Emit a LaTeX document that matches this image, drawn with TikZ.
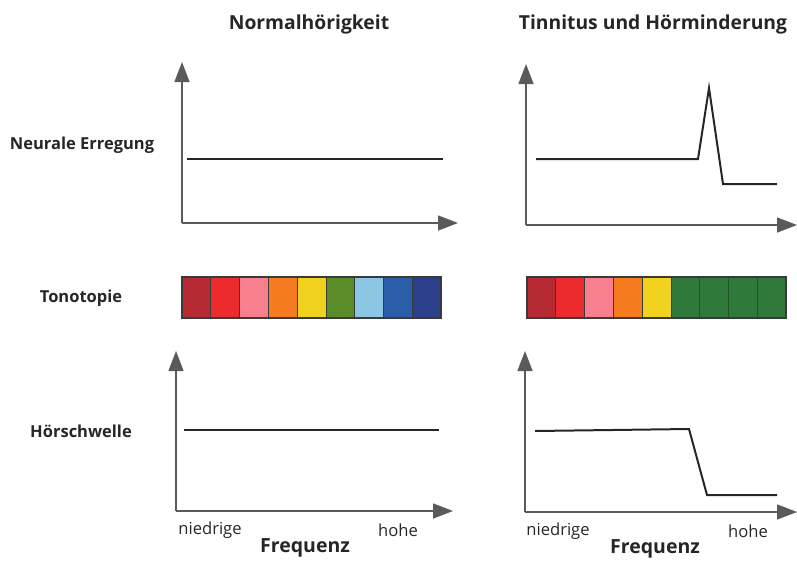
\documentclass[tikz,border=0pt]{standalone}
\usepackage{fontspec}
\setmainfont{Open Sans}
\usetikzlibrary{arrows.meta}
\definecolor{axisgray}{HTML}{5A5A5A}
\definecolor{linegray}{HTML}{262626}
\definecolor{cellborder}{HTML}{3A3A3A}
\definecolor{cDarkRed}{HTML}{B52A33}
\definecolor{cRed}{HTML}{EC2B2E}
\definecolor{cPink}{HTML}{F77F8E}
\definecolor{cOrange}{HTML}{F47B20}
\definecolor{cYellow}{HTML}{F1D21E}
\definecolor{cGreen}{HTML}{5B8C2A}
\definecolor{cLightBlue}{HTML}{8DC6E5}
\definecolor{cBlue}{HTML}{2B5DA8}
\definecolor{cDarkBlue}{HTML}{2C3F8A}
\definecolor{cDeepGreen}{HTML}{2F7A3A}
\tikzset{
  axis/.style={draw=axisgray, line width=1.4pt, -{Triangle[length=20pt,width=15pt]}, color=axisgray},
  curve/.style={draw=linegray, line width=2pt, line join=miter},
  title/.style={font=\bfseries\fontsize{19.3}{22}\selectfont, text=black!85, inner sep=0pt},
  rowlabel/.style={font=\bfseries\fontsize{16.5}{19}\selectfont, text=black!85, inner sep=0pt},
  freqlabel/.style={font=\fontsize{16.6}{19}\selectfont, text=black!85, inner sep=0pt},
  freqtitle/.style={font=\bfseries\fontsize{19.5}{22}\selectfont, text=black!85, inner sep=0pt},
  cell/.style={draw=cellborder, line width=0.8pt}
}
\begin{document}
\begin{tikzpicture}[x=1pt,y=-1pt]
\useasboundingbox (0,0) rectangle (797,560);
% titles
\node[title] (t1) at (309,24) {Normalhörigkeit};
\node[title] (t2) at (653,24) {Tinnitus und Hörminderung};
% row labels
\node[rowlabel] (r1) at (82,145) {Neurale Erregung};
\node[rowlabel] (r2) at (81,298) {Tonotopie};
\node[rowlabel] (r3) at (81,431) {Hörschwelle};

% top-left chart
\coordinate (o1) at (182,223);
\coordinate (y1) at (182,62);
\coordinate (x1) at (458,223);
\draw[axis] (o1) -- (y1);
\draw[axis] (o1) -- (x1);
\draw[curve] (187,159) -- (443,159);

% top-right chart
\coordinate (o2) at (526,225);
\coordinate (y2) at (526,64);
\coordinate (x2) at (797,225);
\draw[axis] (o2) -- (y2);
\draw[axis] (o2) -- (x2);
\draw[curve] (536,159) -- (698,159) -- (709,88) -- (723,184) -- (777,184);

% tonotopy left
\foreach \c [count=\i from 0] in {cDarkRed,cRed,cPink,cOrange,cYellow,cGreen,cLightBlue,cBlue,cDarkBlue}{
  \fill[\c] (182+\i*28.78,277) rectangle ++(28.78,41);
  \draw[cell] (182+\i*28.78,277) rectangle ++(28.78,41);
}
\draw[cellborder, line width=1.2pt] (182,277) rectangle (441,318);
% tonotopy right
\foreach \c [count=\i from 0] in {cDarkRed,cRed,cPink,cOrange,cYellow,cDeepGreen,cDeepGreen,cDeepGreen,cDeepGreen}{
  \fill[\c] (527+\i*28.78,277) rectangle ++(28.78,41);
}
\foreach \i in {1,2,3,4,5}{
  \draw[cell] (527+\i*28.78,277) -- ++(0,41);
}
\foreach \i in {6,7,8}{
  \draw[cDeepGreen!70!black, line width=0.5pt] (527+\i*28.78,277) -- ++(0,41);
}
\draw[cellborder, line width=1.2pt] (527,277) rectangle (786,318);

% bottom-left chart
\coordinate (o3) at (176,511);
\coordinate (y3) at (176,351);
\coordinate (x3) at (453,511);
\draw[axis] (o3) -- (y3);
\draw[axis] (o3) -- (x3);
\draw[curve] (184,430) -- (439,430);
\node[freqlabel] (n1) at (210,530) {niedrige};
\node[freqlabel] (h1) at (398,530) {hohe};
\node[freqtitle] (f1) at (305,548) {Frequenz};

% bottom-right chart
\coordinate (o4) at (525,512);
\coordinate (y4) at (525,351);
\coordinate (x4) at (797,512);
\draw[axis] (o4) -- (y4);
\draw[axis] (o4) -- (x4);
\draw[curve] (535,431) -- (689,429) -- (707,495) -- (777,495);
\node[freqlabel] (n2) at (558,531) {niedrige};
\node[freqlabel] (h2) at (748,531) {hohe};
\node[freqtitle] (f2) at (655,549) {Frequenz};
\end{tikzpicture}
\end{document}
